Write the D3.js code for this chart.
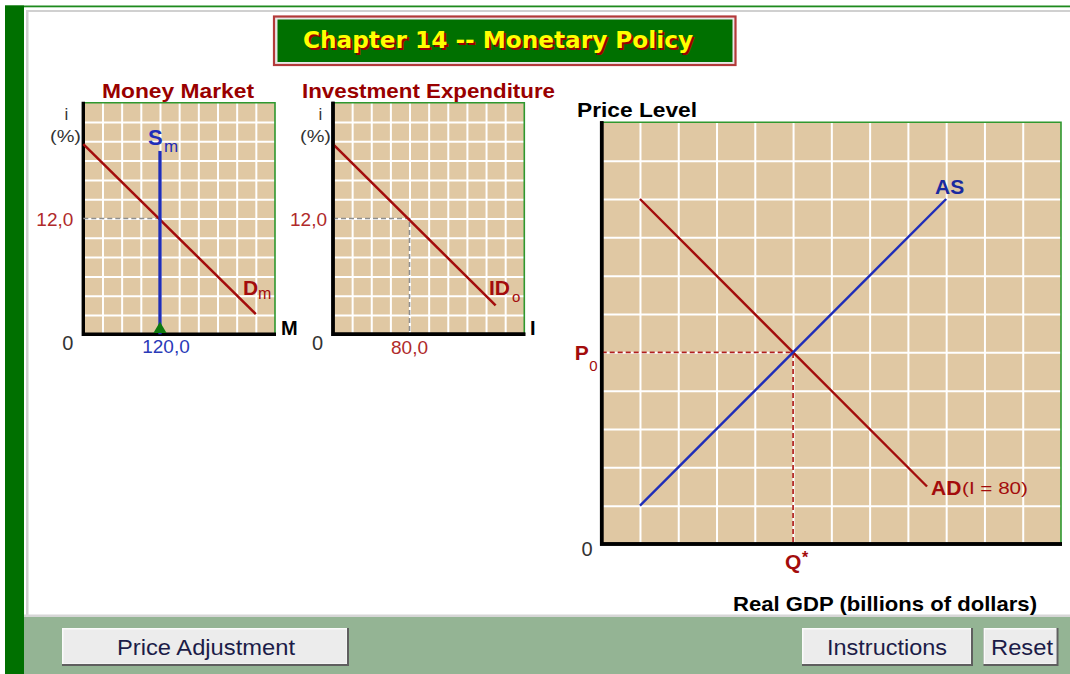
<!DOCTYPE html>
<html><head><meta charset="utf-8">
<script src="https://cdn.jsdelivr.net/npm/d3@7"></script>
<style>
html,body{margin:0;padding:0;background:#fff;overflow:hidden}
svg{display:block;font-family:"Liberation Sans",Arial,sans-serif}
</style></head><body>
<svg id="c" width="1070" height="674"></svg>
<script>
// ---------- data ----------
const chartTitle = "Chapter 14 -- Monetary Policy";
const panelTitles = ["Money Market", "Investment Expenditure"];
const interestRate = 12;                 // equilibrium i (%)
const moneySupply = 120;                 // Sm position
const moneySupplyTop = 19;               // top of Sm line (i)
const moneyDemand = [[0, 19.7], [270, 2.1]];
const investmentEq = 80;                 // I at i = 12
const investmentDemand = [[0, 19.7], [170, 3]];
const adCurve = [[1, 9], [8.5, 1.5]];
const asCurve = [[1, 1], [9, 9]];
const equilibrium = [5, 5];              // [Q*, P0] in grid units
const mmXTicks = d3.range(30, 300, 30);
const invXTicks = d3.range(20, 200, 20);
const rateTicks = d3.range(2, 24, 2);
const gdpTicks = d3.range(1, 12, 1);
const priceTicks = d3.range(1, 11, 1);
const buttons = ["Price Adjustment", "Instructions", "Reset"];

// ---------- colors ----------
const TAN = "#e0c8a3", RED = "#a30c0c", BLUE = "#1f2db8", DKGREEN = "#007000";

const svg = d3.select("#c");

// ---------- frame ----------
svg.append("rect").attr("width", 1070).attr("height", 674).attr("fill", "#fff");
svg.append("rect").attr("x", 5).attr("y", 5.5).attr("width", 1065).attr("height", 1.8).attr("fill", "#1e8a1e");
svg.append("rect").attr("x", 26).attr("y", 10).attr("width", 1044).attr("height", 2).attr("fill", "#d0d0d0");
svg.append("rect").attr("x", 26).attr("y", 10).attr("width", 2.5).attr("height", 607).attr("fill", "#d0d0d0");
svg.append("rect").attr("x", 24).attr("y", 614.5).attr("width", 1046).attr("height", 2.5).attr("fill", "#d6d6d6");
svg.append("rect").attr("x", 24).attr("y", 617).attr("width", 1046).attr("height", 57).attr("fill", "#94b494");
svg.append("rect").attr("x", 5).attr("y", 5.5).attr("width", 19).attr("height", 670).attr("fill", DKGREEN);

// ---------- title box ----------
svg.append("rect").attr("x", 274).attr("y", 16.5).attr("width", 461.5).attr("height", 48.5)
  .attr("fill", "#e8e8e8").attr("stroke", "#b33a3a").attr("stroke-width", 2.2);
svg.append("rect").attr("x", 277.5).attr("y", 19.5).attr("width", 455).attr("height", 42.5).attr("fill", DKGREEN);
[["#9a0000", 2, 2], ["#ffff00", 0, 0]].forEach(([c, dx, dy]) => {
  svg.append("text").attr("x", 303 + dx).attr("y", 48 + dy).text(chartTitle)
    .attr("font-family", "'DejaVu Sans',Verdana,sans-serif").attr("font-weight", "bold")
    .attr("font-size", 23).attr("fill", c)
    .attr("textLength", 390).attr("lengthAdjust", "spacingAndGlyphs");
});

// ---------- helpers ----------
function text(x, y, s, o = {}) {
  const t = svg.append("text").attr("x", x).attr("y", y).text(s)
    .attr("font-size", o.size || 20).attr("fill", o.fill || "#000")
    .attr("font-weight", o.bold ? "bold" : "normal")
    .attr("text-anchor", o.anchor || "start");
  if (o.len) t.attr("textLength", o.len).attr("lengthAdjust", "spacingAndGlyphs");
  return t;
}

function drawPanel(x, y, xTicks, yTicks) {
  const [x0, x1] = x.range(), [y0, y1] = y.range();
  const g = svg.append("g");
  g.append("rect").attr("x", x0).attr("y", y1).attr("width", x1 - x0).attr("height", y0 - y1).attr("fill", TAN);
  const style = s => { s.select(".domain").remove(); s.selectAll("text").remove();
    s.selectAll("line").attr("stroke", "#fff").attr("stroke-width", 2); };
  g.append("g").attr("transform", `translate(0,${y0})`)
    .call(d3.axisBottom(x).tickValues(xTicks).tickSize(-(y0 - y1)).tickFormat("")).call(style);
  g.append("g").attr("transform", `translate(${x0},0)`)
    .call(d3.axisLeft(y).tickValues(yTicks).tickSize(-(x1 - x0)).tickFormat("")).call(style);
  g.append("path").attr("d", `M${x0},${y1}H${x1}V${y0}`).attr("fill", "none")
    .attr("stroke", "#2f982f").attr("stroke-width", 1.6);
  g.append("path").attr("d", `M${x0},${y1 - 1}V${y0}H${x1 + 1}`).attr("fill", "none")
    .attr("stroke", "#000").attr("stroke-width", 3.4);
  return g;
}
const line = (x, y) => d3.line().x(d => x(d[0])).y(d => y(d[1]));

// ---------- Money market ----------
const mx = d3.scaleLinear().domain([0, 300]).range([83.3, 275]);
const my = d3.scaleLinear().domain([0, 24]).range([334.3, 102.7]);
drawPanel(mx, my, mmXTicks, rateTicks);
svg.append("path").attr("d", line(mx, my)([[0, interestRate], [moneySupply, interestRate]]))
  .attr("stroke", "#8f8f8f").attr("stroke-width", 1.6).attr("stroke-dasharray", "5,3");
svg.append("path").attr("d", line(mx, my)(moneyDemand)).attr("stroke", RED).attr("stroke-width", 2.5);
svg.append("path").attr("d", line(mx, my)([[moneySupply, 0], [moneySupply, moneySupplyTop]]))
  .attr("stroke", BLUE).attr("stroke-width", 3.3);
svg.append("path").attr("d", d3.symbol(d3.symbolTriangle, 75)())
  .attr("transform", `translate(${mx(moneySupply)},${my(0) - 5})`).attr("fill", "#0f7a0f");
text(102, 98, panelTitles[0], { bold: true, size: 21, fill: "#990000", len: 152 });
text(66.5, 120, "i", { size: 17, fill: "#333", anchor: "middle" });
text(50, 142, "(%)", { size: 17, fill: "#333", len: 31 });
text(mx(0) - 10, my(interestRate) + 7, "12,0", { size: 19, fill: "#b02a2a", anchor: "end" });
text(mx(0) - 10, my(0) + 16, "0", { size: 20, fill: "#333", anchor: "end" });
text(mx(moneySupply) + 6, my(0) + 19, "120,0", { size: 19, fill: "#2a3ab8", anchor: "middle" });
text(281, 335, "M", { bold: true, size: 20 });
text(148, 145, "S", { bold: true, size: 22, fill: BLUE });
text(164, 152, "m", { size: 17, fill: BLUE });
text(243, 295, "D", { bold: true, size: 21, fill: RED });
text(258, 299, "m", { size: 16, fill: RED });

// ---------- Investment ----------
const ix = d3.scaleLinear().domain([0, 200]).range([333, 524.3]);
const iy = d3.scaleLinear().domain([0, 24]).range([334.3, 102.7]);
drawPanel(ix, iy, invXTicks, rateTicks);
svg.append("path").attr("d", line(ix, iy)([[0, interestRate], [investmentEq, interestRate], [investmentEq, 0]]))
  .attr("fill", "none").attr("stroke", "#8f8f8f").attr("stroke-width", 1.6).attr("stroke-dasharray", "5,3");
svg.append("path").attr("d", line(ix, iy)(investmentDemand)).attr("stroke", RED).attr("stroke-width", 2.5);
// redraw axes over dashed lines
svg.append("path").attr("d", `M${ix(0)},${iy(24) - 1}V${iy(0)}H${ix(200) + 1}`).attr("fill", "none")
  .attr("stroke", "#000").attr("stroke-width", 3.4);
text(302, 98, panelTitles[1], { bold: true, size: 21, fill: "#990000", len: 253 });
text(320.5, 120, "i", { size: 17, fill: "#333", anchor: "middle" });
text(300, 142, "(%)", { size: 17, fill: "#333", len: 31 });
text(ix(0) - 6, iy(interestRate) + 7, "12,0", { size: 19, fill: "#b02a2a", anchor: "end" });
text(ix(0) - 10, iy(0) + 16, "0", { size: 20, fill: "#333", anchor: "end" });
text(ix(investmentEq), iy(0) + 20, "80,0", { size: 19, fill: "#b02a2a", anchor: "middle" });
text(530, 335, "I", { bold: true, size: 20 });
text(489, 295, "ID", { bold: true, size: 21, fill: RED });
text(512, 302, "o", { size: 15, fill: RED });

// ---------- AD / AS ----------
const gx = d3.scaleLinear().domain([0, 12]).range([601.7, 1061]);
const gy = d3.scaleLinear().domain([0, 11]).range([544, 122.3]);
drawPanel(gx, gy, gdpTicks, priceTicks);
const [qEq, pEq] = equilibrium;
svg.append("path").attr("d", line(gx, gy)([[0, pEq], [qEq, pEq], [qEq, 0]]))
  .attr("fill", "none").attr("stroke", "#b0201e").attr("stroke-width", 1.7).attr("stroke-dasharray", "5,3");
svg.append("path").attr("d", line(gx, gy)(adCurve)).attr("stroke", RED).attr("stroke-width", 2.4);
svg.append("path").attr("d", line(gx, gy)(asCurve)).attr("stroke", BLUE).attr("stroke-width", 2.4);
svg.append("path").attr("d", `M${gx(0)},${gy(11) - 1}V${gy(0)}H${gx(12) + 1}`).attr("fill", "none")
  .attr("stroke", "#000").attr("stroke-width", 3.6);
text(577, 117, "Price Level", { bold: true, size: 21, len: 120 });
text(733, 611, "Real GDP (billions of dollars)", { bold: true, size: 21, len: 304 });
text(gx(0) - 9, gy(0) + 12, "0", { size: 20, fill: "#333", anchor: "end" });
text(gx(0) - 27, gy(pEq) + 8, "P", { bold: true, size: 21, fill: RED });
text(gx(0) - 12.5, gy(pEq) + 19, "0", { size: 15, fill: RED });
text(gx(qEq) - 8, gy(0) + 25, "Q", { bold: true, size: 21, fill: RED });
text(gx(qEq) + 9, gy(0) + 19, "*", { bold: true, size: 16, fill: RED });
text(935, 194, "AS", { bold: true, size: 21, fill: "#1a2aa0" });
text(931, 495, "AD", { bold: true, size: 21, fill: RED });
text(962, 494, "(I = 80)", { size: 17, fill: RED, len: 66 });

// ---------- buttons ----------
const btnBoxes = [[62, 349, 117, 295], [802, 973, 827, 947], [983.5, 1058.5, 991, 1053]];
buttons.forEach((b, i) => {
  const [x0, x1, t0, t1] = btnBoxes[i];
  const y0 = 628, y1 = 666;
  svg.append("rect").attr("x", x0).attr("y", y0).attr("width", x1 - x0).attr("height", y1 - y0).attr("fill", "#5f5f5f");
  svg.append("rect").attr("x", x0).attr("y", y0).attr("width", x1 - x0 - 2).attr("height", y1 - y0 - 2).attr("fill", "#fafafa");
  svg.append("rect").attr("x", x0 + 1.5).attr("y", y0 + 1.5).attr("width", x1 - x0 - 4).attr("height", y1 - y0 - 4).attr("fill", "#ececec");
  text(t0, 655, b, { size: 22, fill: "#1c1c48", len: t1 - t0 });
});
</script></body></html>
